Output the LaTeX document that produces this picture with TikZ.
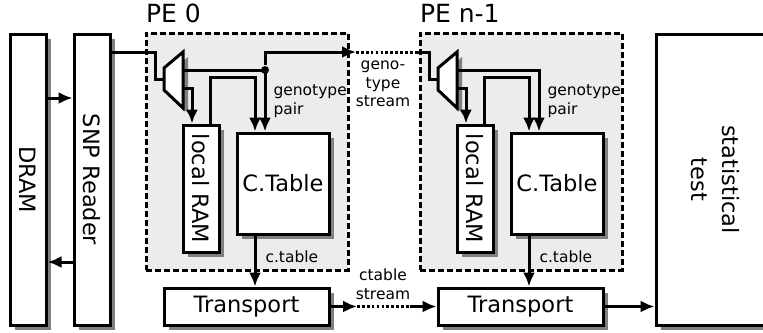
\documentclass[tikz,border=0pt]{standalone}
\usepackage{fontspec}
\setmainfont{DejaVu Sans}
\usepackage{graphicx}
\usetikzlibrary{shadows,arrows.meta}

\begin{document}
\begin{tikzpicture}[
  x=1pt, y=-1pt,
  line width=3pt,
  >={Latex[length=14pt,width=12pt]},
  every node/.style={font=\fontsize{22.5}{26}\selectfont},
  block/.style={draw, fill=white, inner sep=0pt,
    drop shadow={shadow xshift=5pt, shadow yshift=-5pt, fill=gray, opacity=1}},
  pebox/.style={draw, dash pattern=on 6pt off 3pt, fill=gray!15},
  small/.style={font=\fontsize{15.5}{18.5}\selectfont, align=center, inner sep=0pt},
  stream/.style={dash pattern=on 2.7pt off 2.2pt}
]
\useasboundingbox (0,0) rectangle (763,332);

% memory side
\node[block, minimum width=36pt, minimum height=291pt] (dram) at (28,179.5) {\rotatebox{-90}{DRAM}};
\node[block, minimum width=36pt, minimum height=291pt] (snp) at (92,179.5) {\rotatebox{-90}{SNP Reader}};

% processing elements
\foreach \i/\x/\t in {0/0/PE 0, 1/274/PE n-1} {
  \node[pebox, minimum width=202pt, minimum height=237pt] (pe\i) at (247+\x,151.5) {};
  \node[anchor=south west, inner sep=0pt, font=\fontsize{25}{30}\selectfont] (pelab\i)
    at ([yshift=7pt]pe\i.north west) {\t};
  % mux
  \draw[block] (164+\x,68) -- (183+\x,52) -- (183+\x,108) -- (164+\x,90) -- cycle;
  \coordinate (muxin\i) at (164+\x,79);
  \coordinate (muxtop\i) at (183+\x,70);
  \coordinate (muxbot\i) at (183+\x,88);
  \node[block, minimum width=36pt, minimum height=127pt] (ram\i) at (201+\x,188.5) {\rotatebox{-90}{local RAM}};
  \node[block, minimum width=92pt, minimum height=101pt] (ctab\i) at (283+\x,183.5) {C.Table};
  \node[block, minimum width=165pt, minimum height=37pt] (tr\i) at (246.5+\x,306.5) {Transport};
  \draw[->] (muxtop\i) -| ([xshift=-18pt]ctab\i.north);
  \draw[->] (muxbot\i) -| ([xshift=-9pt]ram\i.north);
  \draw[->] ([xshift=9pt]ram\i.north) -- ++(0,-46) -| ([xshift=-28pt]ctab\i.north);
  \draw[->] ([xshift=-28pt]ctab\i.south) -- ([xshift=8.5pt]tr\i.north);
  \node[small, anchor=west, align=left] (gp\i) at (272+\x,101) {genotype\\pair};
  \node[small, anchor=west] (ct\i) at (264+\x,257) {c.table};
}

% statistics
\node[block, minimum width=112pt, minimum height=291pt] (stat) at (712,179.5)
  {\rotatebox{-90}{\begin{tabular}{@{}c@{}}statistical\\[5pt]test\end{tabular}}};

% connections
\draw[->] ([yshift=81.5pt]dram.east) -- ([yshift=81.5pt]snp.west);
\draw[->] ([yshift=-82.5pt]snp.west) -- ([yshift=-82.5pt]dram.east);
\draw ([yshift=127.5pt]snp.east) -| ([xshift=-9pt]muxin0) -- (muxin0);

\node[circle, fill, inner sep=0pt, minimum size=8pt] (dot) at (265,70) {};
\coordinate (gs0) at (356,52);
\coordinate (gs1) at (418,52);
\draw[->] (dot) |- (gs0);
\draw[stream] (gs0) -- (gs1);
\draw (gs1) -| ([xshift=-9pt]muxin1) -- (muxin1);
\node[small] (gslab) at (383,84) {geno-\\type\\stream};

\coordinate (cs0) at (357,306.5);
\coordinate (cs1) at (410,306.5);
\draw[->] (tr0.east) -- (cs0);
\draw[stream] (cs0) -- (cs1);
\draw[->] (cs1) -- (tr1.west);
\node[small] (cslab) at (383,284) {ctable\\stream};

\draw[->] (tr1.east) -- (tr1.east -| stat.west);
\end{tikzpicture}
\end{document}
